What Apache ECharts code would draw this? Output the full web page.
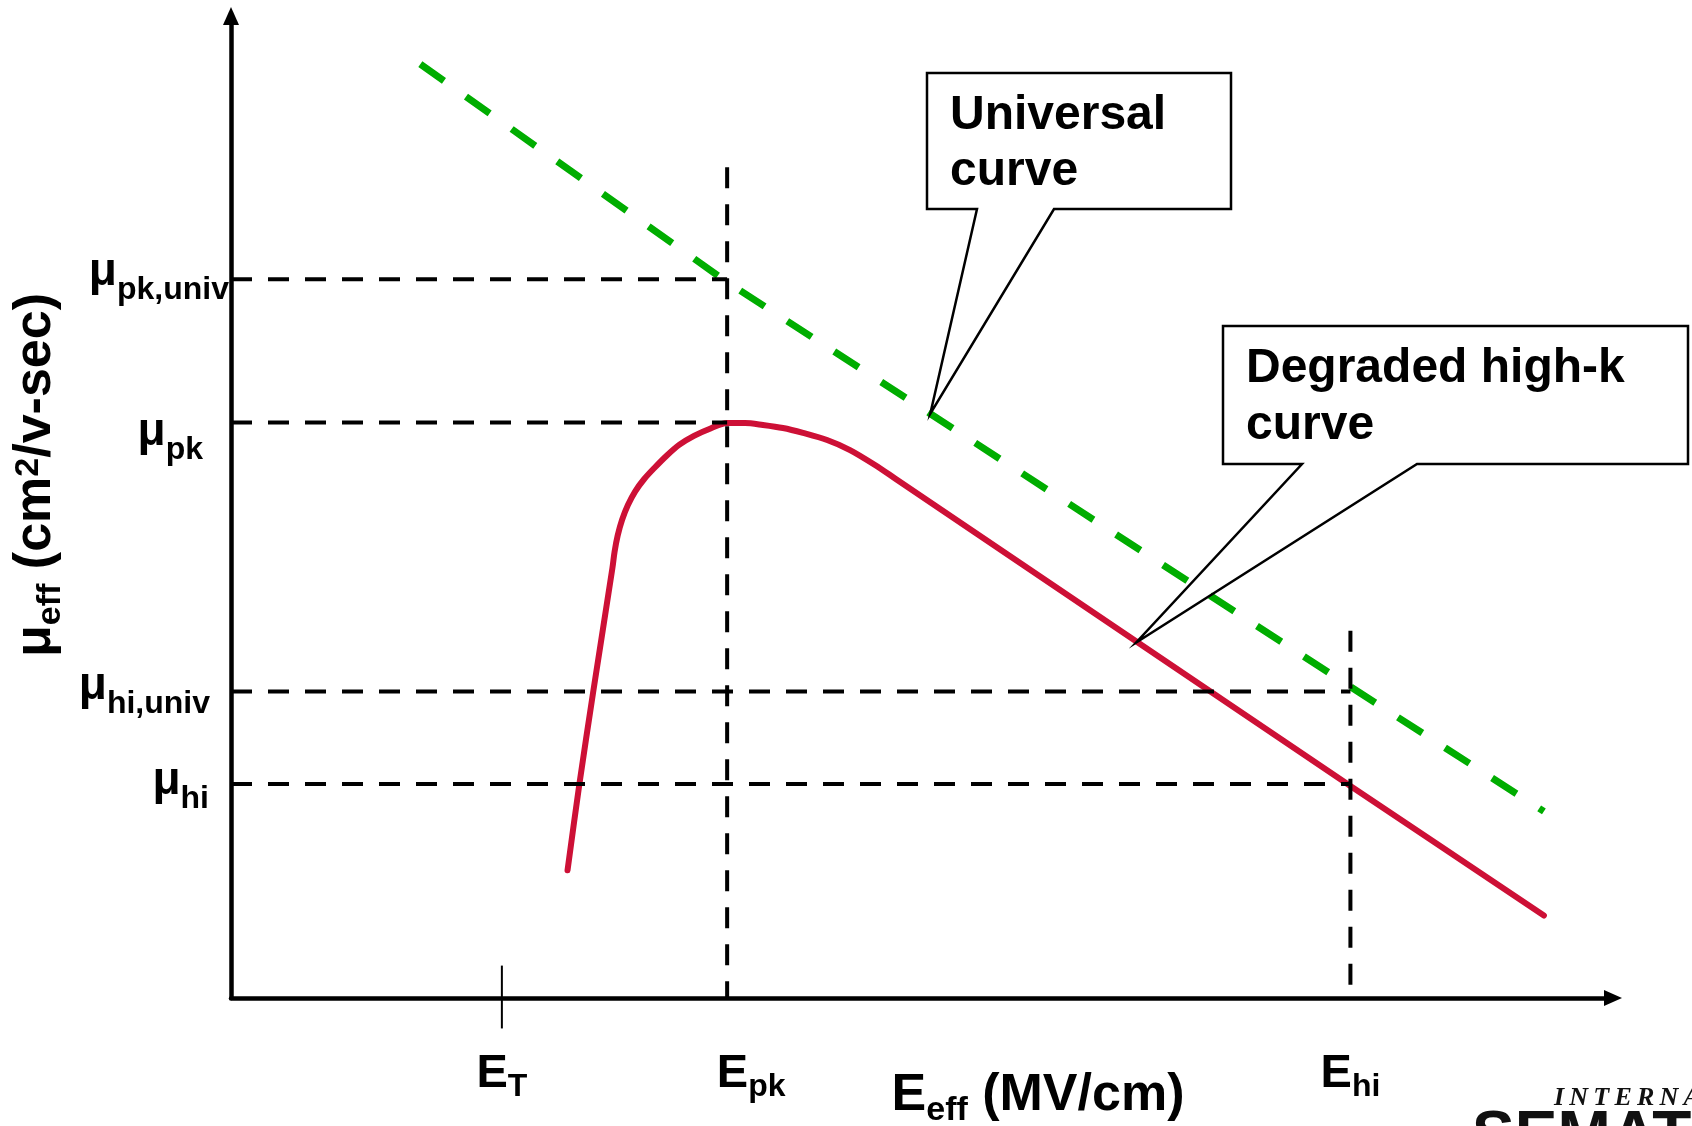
<!DOCTYPE html>
<html><head><meta charset="utf-8">
<script src="https://cdn.jsdelivr.net/npm/echarts@6/dist/echarts.min.js"></script>
<style>html,body{margin:0;padding:0;background:#fff}#c{width:1692px;height:1126px}</style>
</head><body><div id="c"></div>
<script>
// ---------- data (arbitrary units 0..100) ----------
const xTickValues = [19.6, 35.9, 81.0];            // E_T, E_pk, E_hi
const xTickSubs   = ['T', 'pk', 'hi'];
const yTickValues = [73.2, 58.6, 31.2, 21.8];      // μpk,univ, μpk, μhi,univ, μhi
const yTickSubs   = ['pk,univ', 'pk', 'hi,univ', 'hi'];
const univX = [13.7, 35.9, 50.6, 81.0, 95.0];
const univY = [95.1, 72.9, 59.5, 31.7, 19.0];
const degX = [24.35, 25.2, 26.2, 27.6, 27.75, 27.98, 28.3, 28.72, 29.25, 29.9, 30.65, 31.5, 32.45, 33.5, 34.7, 35.89, 37.19, 38.49, 39.94, 41.39, 43.13, 44.79, 46.60, 48.05, 81.0, 95.0];
const degY = [13.0, 21.7, 31.1, 43.8, 45.4, 47.1, 48.7, 50.2, 51.6, 52.85, 54.0, 55.2, 56.35, 57.25, 58.0, 58.55, 58.55, 58.35, 58.04, 57.54, 56.82, 55.80, 54.28, 52.9, 21.6, 8.4];
const hGuideEndTick = [1, 1, 2, 2];                // each μ guide ends at E_pk or E_hi
const vGuideTicks = [1, 2];                        // vertical guides at E_pk, E_hi
const vGuideTops  = [84.6, 37.4];
const etTickSpan  = [-3.1, 3.3];
const calloutTexts   = [['Universal', 'curve'], ['Degraded high-k', 'curve']];
const calloutAnchors = [[50.6, 59.5], [65.5, 36.2]];

// ---------- styles / layout ----------
const FONT = '"Liberation Sans", Arial, Helvetica, sans-serif';
const RED = '#cd1036', GREEN = '#00ad00';
function pad(shift, right, left) {
  right = right || 0; left = left || 0;
  return shift >= 0 ? [2 * shift, right, 0, left] : [0, right, -2 * shift, left];
}
const yLabelLayout = [[-7, 11, 0], [10, 28, 26], [-5, 13, 19], [-3, 15, 20]];
const yRich = {};
yLabelLayout.forEach((l, i) => {
  yRich['m' + i] = {fontSize: 46, fontWeight: 'bold', fontFamily: FONT, color: '#000', lineHeight: 56, verticalAlign: 'middle', padding: pad(l[0])};
  yRich['s' + i] = {fontSize: 32, fontWeight: 'bold', fontFamily: FONT, color: '#000', lineHeight: 56, verticalAlign: 'middle', padding: pad(l[1], l[2])};
});
const xLabelLeftPad = [0, 48, 0];
const xRich = {};
xTickValues.forEach((v, i) => {
  xRich['e' + i] = {fontSize: 47, fontWeight: 'bold', fontFamily: FONT, color: '#000', lineHeight: 56, verticalAlign: 'middle', padding: pad(0, 0, xLabelLeftPad[i])};
  xRich['x' + i] = {fontSize: 32, fontWeight: 'bold', fontFamily: FONT, color: '#000', lineHeight: 56, verticalAlign: 'middle', padding: pad(13.5)};
});
const titleRich = {
  m:   {fontSize: 52, fontWeight: 'bold', fontFamily: FONT, color: '#000', lineHeight: 60, verticalAlign: 'middle'},
  s:   {fontSize: 34, fontWeight: 'bold', fontFamily: FONT, color: '#000', lineHeight: 60, verticalAlign: 'middle', padding: pad(15)},
  sup: {fontSize: 34, fontWeight: 'bold', fontFamily: FONT, color: '#000', lineHeight: 60, verticalAlign: 'middle', padding: pad(-7)}
};
function idx(arr, v) { return arr.findIndex(t => Math.abs(t - v) < 1e-6); }

const zip = (xs, ys) => xs.map((x, i) => [x, ys[i]]);
const guideStyle = {color: '#000', width: 4, type: [21, 16]};
const series = [];
series.push({type: 'line', name: 'Universal curve', data: zip(univX, univY), symbol: 'none',
  lineStyle: {color: GREEN, width: 7, type: [29, 27]}, z: 2});
series.push({type: 'line', name: 'Degraded high-k curve', data: zip(degX, degY), symbol: 'none', smooth: 0.3,
  lineStyle: {color: RED, width: 6, cap: 'round', join: 'round'}, z: 3});
yTickValues.forEach((y, i) => {
  series.push({type: 'line', data: [[0, y], [xTickValues[hGuideEndTick[i]], y]], symbol: 'none', lineStyle: guideStyle, z: 4});
});
vGuideTicks.forEach((t, i) => {
  series.push({type: 'line', data: [[xTickValues[t], vGuideTops[i]], [xTickValues[t], 0]], symbol: 'none', lineStyle: guideStyle, z: 4});
});
series.push({type: 'line', data: [[xTickValues[0], etTickSpan[0]], [xTickValues[0], etTickSpan[1]]], symbol: 'none', clip: false,
  lineStyle: {color: '#000', width: 2}, z: 4});

const axisLineStyle = {show: true, onZero: false, symbol: ['none', 'triangle'], symbolSize: [16, 18], lineStyle: {color: '#000', width: 4.5}};
const chart = echarts.init(document.getElementById('c'), null, {renderer: 'canvas'});
chart.setOption({
  animation: false,
  backgroundColor: '#fff',
  textStyle: {fontFamily: FONT},
  grid: {left: 231, right: 79, top: 16, bottom: 128, containLabel: false, outerBoundsMode: 'none'},
  xAxis: {
    type: 'value', min: 0, max: 100,
    axisLine: axisLineStyle,
    axisTick: {show: false}, splitLine: {show: false},
    axisLabel: {show: true, customValues: xTickValues, margin: 48,
      formatter: v => { const i = idx(xTickValues, v); return '{e' + i + '|E}{x' + i + '|' + xTickSubs[i] + '}'; }, rich: xRich},
    name: '{m|E}{s|eff}{m| (MV/cm)}', nameLocation: 'middle', nameGap: 68, nameMoveOverlap: false,
    nameTextStyle: {rich: titleRich, padding: [0, 0, 0, 232]}
  },
  yAxis: {
    type: 'value', min: 0, max: 100,
    axisLine: axisLineStyle,
    axisTick: {show: false}, splitLine: {show: false},
    axisLabel: {show: true, customValues: yTickValues, margin: 2,
      formatter: v => { const i = idx(yTickValues, v); return '{m' + i + '|μ}{s' + i + '|' + yTickSubs[i] + '}'; }, rich: yRich},
    name: '{m|μ}{s|eff}{m| (cm}{sup|2}{m|/v-sec)}', nameLocation: 'middle', nameGap: 165, nameRotate: 90, nameMoveOverlap: false,
    nameTextStyle: {rich: titleRich, padding: [0, 0, 0, 64]}
  },
  series: series
});

// ---------- callouts & logo ----------
const boxes = [
  {x: 927, y: 73, w: 304, h: 136, base: [977, 1054], tx: 950, ty: [116, 172]},
  {x: 1223, y: 326, w: 465, h: 138, base: [1302, 1417], tx: 1246, ty: [369, 426]}
];
const graphic = [];
boxes.forEach((b, i) => {
  const tip = chart.convertToPixel({gridIndex: 0}, calloutAnchors[i]);
  const B = b.y + b.h;
  graphic.push({type: 'polygon', z: 10,
    shape: {points: [[b.x, b.y], [b.x + b.w, b.y], [b.x + b.w, B], [b.base[1], B], tip, [b.base[0], B], [b.x, B]]},
    style: {fill: 'rgba(0,0,0,0)', stroke: '#000', lineWidth: 2.5, lineJoin: 'miter'}});
  calloutTexts[i].forEach((t, k) => {
    graphic.push({type: 'text', z: 11, x: b.tx, y: b.ty[k],
      style: {text: t, fontSize: 48, fontWeight: 'bold', fontFamily: FONT, fill: '#000', align: 'left', verticalAlign: 'middle'}});
  });
});
graphic.push({type: 'text', z: 11, x: 1554, y: 1098,
  style: {text: 'I\u2009N\u2009T\u2009E\u2009R\u2009N\u2009A\u2009T\u2009I\u2009O\u2009N\u2009A\u2009L', fontSize: 26, fontWeight: 'bold', fontStyle: 'italic', fontFamily: '"Liberation Serif", "DejaVu Serif", serif', fill: '#111', align: 'left', verticalAlign: 'middle'}});
graphic.push({type: 'text', z: 11, x: 1472, y: 1138,
  style: {text: 'SEMATECH', fontSize: 64, fontWeight: 'bold', fontFamily: FONT, fill: '#111', align: 'left', verticalAlign: 'middle'}});
chart.setOption({graphic: graphic});
</script></body></html>
